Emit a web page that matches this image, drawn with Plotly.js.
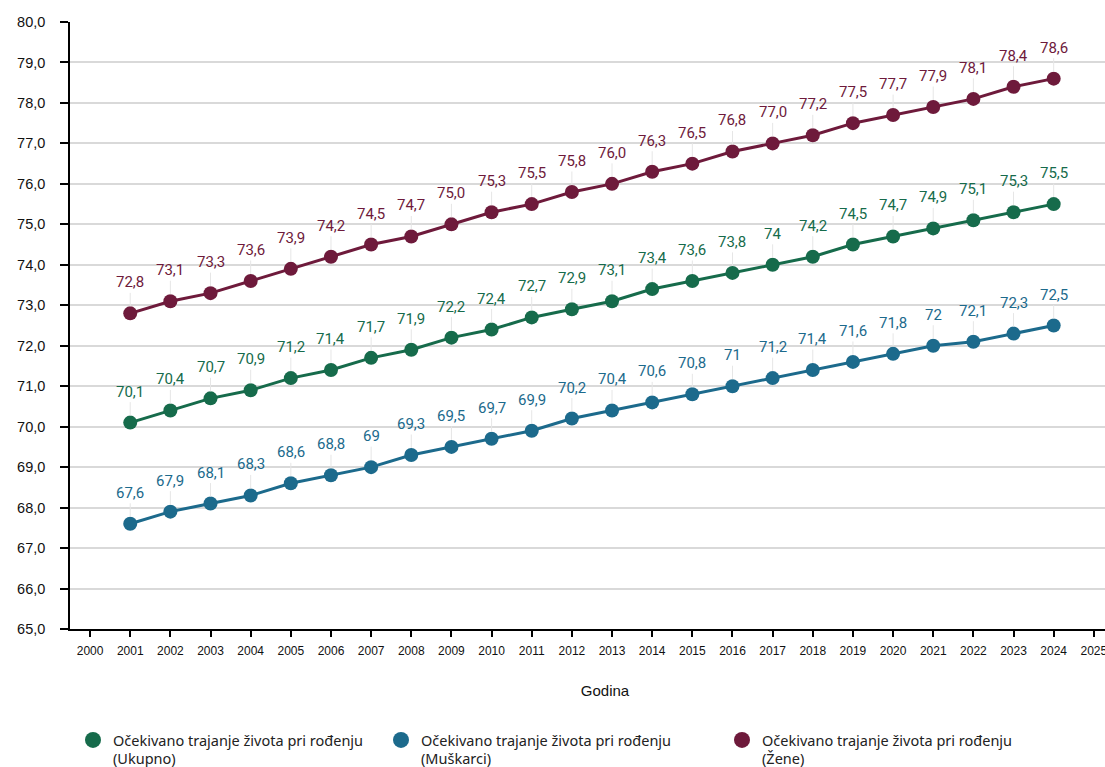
<!DOCTYPE html>
<html>
<head>
<meta charset="utf-8">
<script src="https://cdn.plot.ly/plotly-3.0.1.min.js"></script>
<style>
html, body { margin: 0; padding: 0; overflow: hidden; background: #fff; }
#chart { width: 1140px; height: 767px; }
</style>
</head>
<body>
<div id="chart"></div>
<script>
const years = [2001,2002,2003,2004,2005,2006,2007,2008,2009,2010,2011,2012,2013,2014,2015,2016,2017,2018,2019,2020,2021,2022,2023,2024];
const ukupno = [70.1,70.4,70.7,70.9,71.2,71.4,71.7,71.9,72.2,72.4,72.7,72.9,73.1,73.4,73.6,73.8,74.0,74.2,74.5,74.7,74.9,75.1,75.3,75.5];
const muskarci = [67.6,67.9,68.1,68.3,68.6,68.8,69.0,69.3,69.5,69.7,69.9,70.2,70.4,70.6,70.8,71.0,71.2,71.4,71.6,71.8,72.0,72.1,72.3,72.5];
const zene = [72.8,73.1,73.3,73.6,73.9,74.2,74.5,74.7,75.0,75.3,75.5,75.8,76.0,76.3,76.5,76.8,77.0,77.2,77.5,77.7,77.9,78.1,78.4,78.6];
const ukupnoLabels = ["70,1","70,4","70,7","70,9","71,2","71,4","71,7","71,9","72,2","72,4","72,7","72,9","73,1","73,4","73,6","73,8","74","74,2","74,5","74,7","74,9","75,1","75,3","75,5"];
const muskarciLabels = ["67,6","67,9","68,1","68,3","68,6","68,8","69","69,3","69,5","69,7","69,9","70,2","70,4","70,6","70,8","71","71,2","71,4","71,6","71,8","72","72,1","72,3","72,5"];
const zeneLabels = ["72,8","73,1","73,3","73,6","73,9","74,2","74,5","74,7","75,0","75,3","75,5","75,8","76,0","76,3","76,5","76,8","77,0","77,2","77,5","77,7","77,9","78,1","78,4","78,6"];
const seriesNames = [
  "Očekivano trajanje života pri rođenju<br>(Ukupno)",
  "Očekivano trajanje života pri rođenju<br>(Muškarci)",
  "Očekivano trajanje života pri rođenju<br>(Žene)"
];
const colors = ["#166b4b", "#1c6a8c", "#6e1a3b"];

const W = 1140, H = 767;
const ML = 70, MT = 22, MB = 138;
const PW = W - ML, PH = H - MT - MB;
const series = [
  {y: ukupno, labels: ukupnoLabels, legend: "legend", lx: 73},
  {y: muskarci, labels: muskarciLabels, legend: "legend2", lx: 381},
  {y: zene, labels: zeneLabels, legend: "legend3", lx: 722}
];

const traces = [];
series.forEach((s, i) => {
  traces.push({
    x: years, y: s.y, type: "scatter", mode: "lines+markers",
    name: seriesNames[i], showlegend: false,
    line: {color: colors[i], width: 3},
    marker: {color: colors[i], size: 14},
    hoverinfo: "x+y"
  });
});
series.forEach((s, i) => {
  traces.push({
    x: [null], y: [null], type: "scatter", mode: "markers",
    name: seriesNames[i], showlegend: true, legend: s.legend,
    marker: {color: colors[i], size: 16}
  });
});

const annotations = [];
series.forEach((s, i) => {
  s.y.forEach((v, j) => {
    annotations.push({
      x: years[j], y: v, xref: "x", yref: "y",
      text: s.labels[j],
      showarrow: true, arrowhead: 0, arrowwidth: 1, arrowcolor: "#e6e6e6",
      ax: 0, ay: -31, standoff: 7,
      font: {family: "Roboto, sans-serif", size: 15, color: colors[i]}
    });
  });
});

function legendAt(px) {
  return {
    orientation: "v", xref: "paper", yref: "paper",
    x: (px - ML) / PW, y: (MT + PH - 724) / PH, xanchor: "left", yanchor: "top",
    valign: "top", bgcolor: "rgba(0,0,0,0)",
    font: {family: "'Noto Sans', sans-serif", size: 14.5, color: "#222"},
    tracegroupgap: 0
  };
}

const layout = {
  width: W, height: H,
  margin: {l: ML, r: 0, t: MT, b: MB, autoexpand: false},
  paper_bgcolor: "#fff", plot_bgcolor: "#fff",
  separators: ", ",
  showlegend: true,
  legend: legendAt(73),
  legend2: legendAt(381),
  legend3: legendAt(722),
  xaxis: {
    range: [1999.5, 2026.15], dtick: 1, tick0: 2000,
    showgrid: false, zeroline: false,
    showline: true, linecolor: "#000", linewidth: 1.5,
    ticks: "outside", ticklen: 6, tickwidth: 1.5, tickcolor: "#000",
    ticklabelstandoff: 4,
    tickfont: {family: "'Liberation Sans', Arial, sans-serif", size: 12, color: "#111"},
    title: {text: "Godina", font: {family: "'Liberation Sans', Arial, sans-serif", size: 15, color: "#111"}, standoff: 28}
  },
  yaxis: {
    range: [65, 80], dtick: 1, tick0: 65, tickformat: ".1f",
    showgrid: true, gridcolor: "#d9d9d9", gridwidth: 1.5, zeroline: false,
    showline: true, linecolor: "#000", linewidth: 1.5,
    ticks: "outside", ticklen: 8, tickwidth: 1.5, tickcolor: "#000",
    ticklabelstandoff: 12,
    tickfont: {family: "'Liberation Sans', Arial, sans-serif", size: 14.5, color: "#111"}
  },
  annotations: annotations
};

Plotly.newPlot("chart", traces, layout, {displayModeBar: false, responsive: false});
</script>
</body>
</html>
